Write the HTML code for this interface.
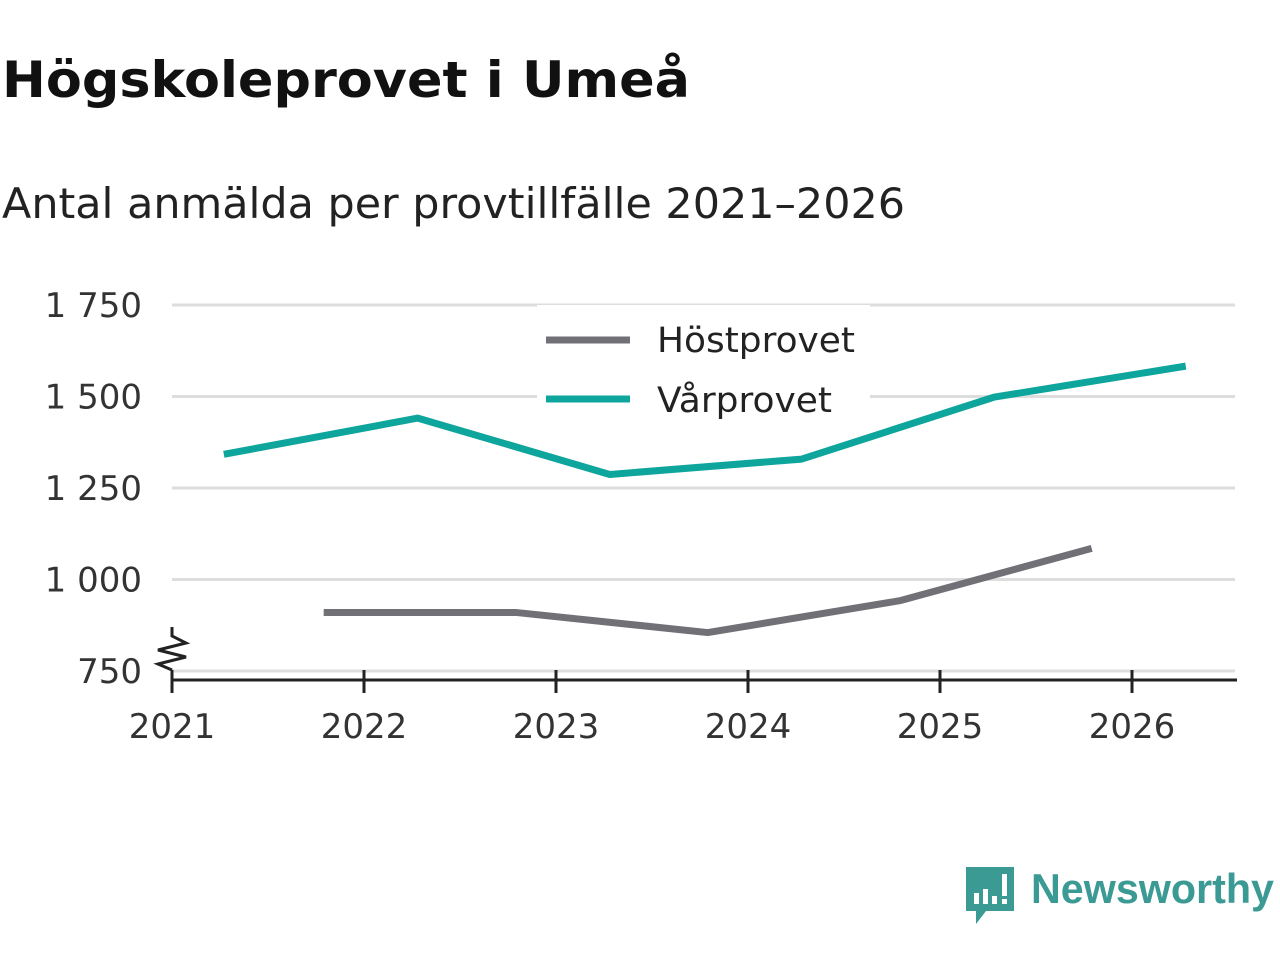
<!DOCTYPE html>
<html><head><meta charset="utf-8"><style>
body{margin:0;background:#fff;width:1280px;height:960px;overflow:hidden;font-family:"Liberation Sans","DejaVu Sans",sans-serif}
</style></head><body>
<svg width="1280" height="960" viewBox="0 0 1280 960" xmlns="http://www.w3.org/2000/svg">
<text x="2" y="97" font-size="50" font-weight="bold" fill="#111" font-family="DejaVu Sans, sans-serif" textLength="688" lengthAdjust="spacingAndGlyphs">Högskoleprovet i Umeå</text>
<text x="2" y="218" font-size="42" fill="#222" font-family="DejaVu Sans, sans-serif" textLength="903" lengthAdjust="spacingAndGlyphs">Antal anmälda per provtillfälle 2021–2026</text>
<g id="grid"></g>
<g id="ylabels" font-size="34" fill="#333" text-anchor="end" font-family="DejaVu Sans, sans-serif"></g>
<g id="xaxis" font-size="34" fill="#333" text-anchor="middle" font-family="DejaVu Sans, sans-serif"></g>
<polyline points="172,627 172,636 186,643 158,650 186,657 158,664 172,670" fill="none" stroke="#222" stroke-width="3"/>
<g id="series"></g>
<rect x="537" y="305" width="333" height="125" fill="#fff"/>
<line x1="546" y1="340" x2="630" y2="340" stroke="#727077" stroke-width="7"/>
<text x="657" y="352" font-size="35" fill="#222" font-family="DejaVu Sans, sans-serif" textLength="198" lengthAdjust="spacingAndGlyphs">Höstprovet</text>
<line x1="546" y1="399" x2="630" y2="399" stroke="#0ea59c" stroke-width="7"/>
<text x="657" y="412" font-size="35" fill="#222" font-family="DejaVu Sans, sans-serif" textLength="175" lengthAdjust="spacingAndGlyphs">Vårprovet</text>
<g>
<path d="M966,867 h48 v44 h-28 l-10,13 v-13 h-10 z" fill="#3b9a94"/>
<rect x="974" y="893" width="5" height="11" fill="#fff"/><rect x="983" y="889" width="5" height="15" fill="#fff"/><rect x="992" y="896" width="5" height="8" fill="#fff"/><rect x="1002" y="874" width="5" height="22" fill="#fff"/><rect x="1002" y="899" width="5" height="5" fill="#fff"/>
<text x="1031" y="903" font-size="42" font-weight="bold" fill="#3b9a94" font-family="Liberation Sans, sans-serif" textLength="243" lengthAdjust="spacingAndGlyphs">Newsworthy</text>
</g>
</svg>
<script>
const yTicks=[750,1000,1250,1500,1750];
const yTickLabels=["750","1 000","1 250","1 500","1 750"];
const xTicks=[2021,2022,2023,2024,2025,2026];
const varX=[2021.27,2022.28,2023.28,2024.28,2025.28,2026.28];
const varValues=[1342,1441,1287,1329,1498,1583];
const hostX=[2021.79,2022.79,2023.79,2024.79,2025.79];
const hostValues=[910,910,855,942,1085];
const NS="http://www.w3.org/2000/svg";
const sx=v=>172+(v-2021)*192;
const sy=v=>305+(1750-v)*91.5/250;
function mk(t,a,p){const e=document.createElementNS(NS,t);for(const k in a)e.setAttribute(k,a[k]);p.appendChild(e);return e;}
const grid=document.getElementById('grid'),yl=document.getElementById('ylabels'),xa=document.getElementById('xaxis'),se=document.getElementById('series');
yTicks.forEach((v,i)=>{
 const l=mk('line',{x1:172,x2:1235,y1:sy(v),y2:sy(v),stroke:'#ddd','stroke-width':3},grid);
 
 
 const t=mk('text',{x:142,y:sy(v)+12},yl);t.textContent=yTickLabels[i];
 
 
});
const ax=mk('line',{x1:172,x2:1237,y1:680,y2:680,stroke:'#222','stroke-width':3},xa);


xTicks.forEach(v=>{
 const tk=mk('line',{x1:sx(v),x2:sx(v),y1:670,y2:693,stroke:'#222','stroke-width':3},xa);
 
 
 const t=mk('text',{x:sx(v),y:738},xa);t.textContent=v;
 
 
});
const h=mk('polyline',{points:hostX.map((x,i)=>sx(x)+','+sy(hostValues[i])).join(' '),fill:'none',stroke:'#727077','stroke-width':7,'stroke-linejoin':'round'},se);


const v=mk('polyline',{points:varX.map((x,i)=>sx(x)+','+sy(varValues[i])).join(' '),fill:'none',stroke:'#0ea59c','stroke-width':7,'stroke-linejoin':'round'},se);


</script>
</body></html>
